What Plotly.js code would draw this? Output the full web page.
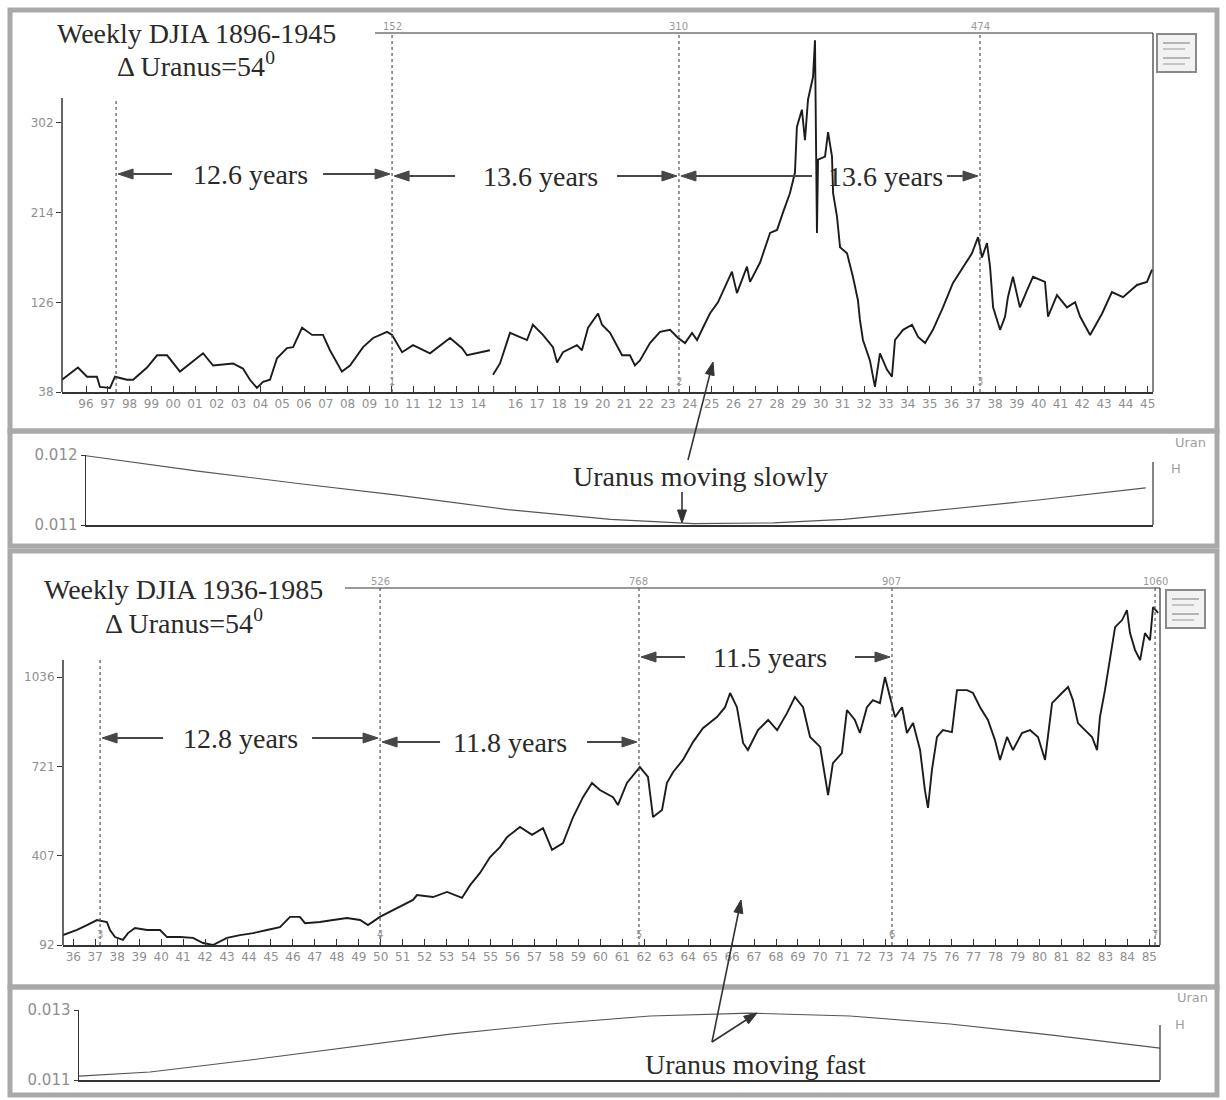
<!DOCTYPE html>
<html><head><meta charset="utf-8">
<script src="https://cdn.plot.ly/plotly-3.0.1.min.js"></script>
<style>html,body{margin:0;padding:0;background:#fff}#chart{width:1226px;height:1100px}</style>
</head><body><div id="chart"></div>
<script>
// ---------------- DATA ----------------
// Panel 1: weekly DJIA 1896-1945 (decimal year, index level)
const years1896 = [1894.90,1895.63,1896.05,1896.50,1896.64,1897.10,1897.33,1897.88,1898.16,1898.80,1899.26,1899.72,1900.31,1900.86,1901.37,1901.83,1902.74,1903.20,1903.52,1903.84,1904.12,1904.44,1904.76,1905.22,1905.50,1905.91,1906.37,1906.87,1907.19,1907.74,1908.11,1908.71,1909.17,1909.81,1910.04,1910.50,1911.00,1911.78,1912.70,1913.25,1913.48,1914.53,1914.97,1915.29,1915.75,1916.21,1916.53,1916.80,1917.26,1917.72,1917.91,1918.18,1918.82,1919.05,1919.33,1919.79,1919.97,1920.34,1920.66,1920.89,1921.25,1921.48,1921.71,1922.17,1922.63,1923.09,1923.46,1923.78,1924.10,1924.33,1924.60,1924.92,1925.29,1925.61,1925.93,1926.16,1926.62,1926.76,1927.22,1927.68,1928.00,1928.27,1928.59,1928.82,1928.91,1929.14,1929.28,1929.42,1929.65,1929.74,1929.83,1929.88,1930.20,1930.34,1930.52,1930.57,1930.75,1930.89,1931.21,1931.48,1931.71,1931.80,1931.94,1932.26,1932.49,1932.72,1933.04,1933.27,1933.41,1933.78,1934.19,1934.47,1934.79,1935.15,1935.61,1936.07,1936.53,1936.94,1937.22,1937.40,1937.63,1937.77,1937.91,1938.23,1938.46,1938.59,1938.82,1939.14,1939.47,1939.74,1940.29,1940.43,1940.84,1941.30,1941.67,1941.90,1942.36,1942.91,1943.36,1943.87,1944.51,1944.97,1945.20];
const djia1896 = [50,62,53,53,43,42,53,50,50,62,74,74,58,67,76,64,66,61,50,42,48,50,71,81,82,101,94,94,79,58,64,82,91,97,94,77,84,76,91,81,74,79,55,66,96,92,89,104,94,82,67,77,84,79,101,115,104,96,84,74,74,64,69,86,97,99,91,86,96,89,101,115,126,141,156,135,161,146,165,194,197,214,233,253,298,315,285,325,347,383,194,266,269,293,269,233,210,180,174,151,128,109,89,69,43,76,60,53,89,99,104,92,86,99,121,145,161,174,190,170,184,161,121,99,112,131,151,121,138,151,146,112,133,121,126,112,94,115,136,131,143,146,158];

// Panel 2: weekly DJIA 1936-1985
const years1936 = [1935.53,1936.17,1936.62,1937.08,1937.53,1937.67,1937.90,1938.26,1938.49,1938.81,1939.36,1939.95,1940.27,1940.86,1941.45,1941.91,1942.36,1943.00,1943.59,1944.19,1944.82,1945.41,1945.87,1946.32,1946.55,1947.23,1947.83,1948.46,1949.06,1949.42,1949.96,1950.56,1950.88,1951.19,1951.47,1951.65,1952.38,1953.02,1953.70,1954.07,1954.52,1954.98,1955.43,1955.75,1956.34,1956.89,1957.39,1957.80,1958.30,1958.76,1959.21,1959.62,1959.98,1960.58,1960.80,1961.21,1961.80,1962.17,1962.40,1962.81,1963.03,1963.31,1963.76,1964.22,1964.67,1965.31,1965.68,1965.91,1966.22,1966.50,1966.72,1967.18,1967.64,1968.05,1968.50,1968.86,1969.23,1969.55,1970.01,1970.37,1970.59,1971.00,1971.23,1971.59,1971.82,1972.14,1972.41,1972.73,1972.96,1973.19,1973.42,1973.74,1973.96,1974.24,1974.56,1974.78,1974.92,1975.10,1975.33,1975.60,1976.01,1976.24,1976.70,1976.97,1977.29,1977.65,1977.97,1978.20,1978.52,1978.79,1979.20,1979.57,1979.93,1980.25,1980.57,1981.02,1981.30,1981.52,1981.75,1982.07,1982.39,1982.62,1982.75,1982.98,1983.21,1983.44,1983.76,1983.98,1984.12,1984.35,1984.58,1984.80,1985.03,1985.17,1985.40];
const djia1936 = [127,145,162,180,173,145,120,110,134,152,145,145,120,120,117,99,92,117,127,134,145,155,191,191,169,173,180,187,180,162,191,215,226,240,251,268,261,279,258,303,346,402,437,472,508,480,504,427,451,543,613,663,638,613,585,663,719,684,543,568,663,701,744,807,856,895,930,980,930,804,779,849,885,849,909,966,930,825,790,620,733,768,920,885,839,930,955,944,1036,966,895,930,839,874,779,638,575,709,825,849,842,990,990,980,930,885,814,744,825,779,839,849,825,744,944,980,1001,955,874,849,825,779,895,990,1096,1212,1237,1272,1191,1131,1096,1191,1166,1283,1262];

// Uranus daily motion (degrees/day)
const uranusYears1 = [1896.00,1901.13,1905.82,1910.18,1915.64,1920.36,1924.17,1927.84,1931.05,1934.08,1939.77,1944.91];
const uranusSpeed1 = [0.01199,0.01177,0.01159,0.01143,0.01122,0.01108,0.01102,0.01103,0.01108,0.01117,0.01135,0.01153];
const uranusYears2 = [1936.26,1939.49,1944.05,1948.60,1953.16,1957.71,1962.27,1966.82,1971.37,1975.93,1980.48,1985.49];
const uranusSpeed2 = [0.01111,0.01123,0.01157,0.01194,0.01231,0.01260,0.01283,0.01291,0.01283,0.01260,0.01229,0.01191];

// Marked turning points (decimal year) and their labels
const events1Years = [1897.38,1910.04,1923.50,1937.31];
const events1Top = ['','152','310','474'];
const events1Num = ['','1','2','3'];
const events2Years = [1937.22,1949.97,1961.76,1973.28,1985.26];
const events2Top = ['','526','768','907','1060'];
const events2Num = ['3','4','5','6','7'];
const spans1 = ['12.6 years','13.6 years','13.6 years'];
const spans2 = ['12.8 years','11.8 years','11.5 years'];

// Tick years (1915 tick mark has no label on the original)
const tickYears1 = []; for(let y=1896;y<=1945;y++) if(y!==1915) tickYears1.push(y);
const unlabeledTick1 = 1915;
const tickYears2 = []; for(let y=1936;y<=1985;y++) tickYears2.push(y);

// ---------------- HELPERS ----------------
const W=1226,H=1100;
const px=x=>x/W, py=y=>1-y/H;
// NYSE closure Aug-Dec 1914 is squeezed out of the weekly bar axis
const CLOSE_AT=1914.6, CLOSE_LEN=0.3;
const tx=y=> y<CLOSE_AT ? y : y-CLOSE_LEN;

function withGap(xs, ys){
  const X=[],Y=[];
  for(let i=0;i<xs.length;i++){
    if(i>0 && xs[i-1]<CLOSE_AT && xs[i]>=CLOSE_AT){X.push(null);Y.push(null);}
    X.push(tx(xs[i]));Y.push(ys[i]);
  }
  return [X,Y];
}
const [x1,y1]=withGap(years1896,djia1896);

const GREY='#8f8f8f';
const tickFont={family:'DejaVu Sans',size:12,color:GREY};
const serif='Liberation Serif';

const traces=[
  {x:x1,y:y1,xaxis:'x',yaxis:'y',type:'scatter',mode:'lines',line:{color:'#1c1c1c',width:1.9},connectgaps:false,hoverinfo:'skip'},
  {x:years1936,y:djia1936,xaxis:'x2',yaxis:'y2',type:'scatter',mode:'lines',line:{color:'#1c1c1c',width:1.9},hoverinfo:'skip'},
  {x:uranusYears1.map(tx),y:uranusSpeed1,xaxis:'x3',yaxis:'y3',type:'scatter',mode:'lines',line:{color:'#555',width:1.1},hoverinfo:'skip'},
  {x:uranusYears2,y:uranusSpeed2,xaxis:'x4',yaxis:'y4',type:'scatter',mode:'lines',line:{color:'#555',width:1.1},hoverinfo:'skip'}
];

const baseAx={showgrid:false,zeroline:false,fixedrange:true,autorange:false};
const layout={
  width:W,height:H,margin:{l:0,r:0,t:0,b:0},paper_bgcolor:'#fff',plot_bgcolor:'rgba(0,0,0,0)',showlegend:false,
  xaxis:Object.assign({},baseAx,{domain:[px(62),px(1153)],range:[1896+(62-86)/21.8,1896+(1153-86)/21.8],anchor:'y',
    showline:true,linecolor:'#333',linewidth:1.5,ticks:'inside',ticklen:6,tickcolor:'#333',
    tickvals:tickYears1.map(tx),ticktext:tickYears1.map(y=>String(y%100).padStart(2,'0')),tickfont:tickFont}),
  yaxis:Object.assign({},baseAx,{domain:[py(392),py(33)],range:[38,38+(392-33)*88/89.7],anchor:'x',
    showline:false,ticks:'outside',ticklen:5,tickcolor:'#333',tickvals:[38,126,214,302],tickfont:tickFont}),
  xaxis2:Object.assign({},baseAx,{domain:[px(63),px(1160)],range:[1936+(63-73.3)/21.96,1936+(1160-73.3)/21.96],anchor:'y2',
    showline:true,linecolor:'#333',linewidth:1.5,ticks:'inside',ticklen:6,tickcolor:'#333',
    tickvals:tickYears2,ticktext:tickYears2.map(y=>String(y%100).padStart(2,'0')),tickfont:tickFont}),
  yaxis2:Object.assign({},baseAx,{domain:[py(945),py(588)],range:[92,92+(945-588)*314.67/89.3],anchor:'x2',
    showline:false,ticks:'outside',ticklen:5,tickcolor:'#333',tickvals:[92,407,721,1036],tickfont:tickFont}),
  xaxis3:Object.assign({},baseAx,{domain:[px(86),px(1153)],range:[1896,1896+(1153-86)/21.8],anchor:'y3',
    showline:true,linecolor:'#333',linewidth:1.5,ticks:'',showticklabels:false}),
  yaxis3:Object.assign({},baseAx,{domain:[py(525),py(455)],range:[0.011,0.012],anchor:'x3',
    showline:true,linecolor:'#333',linewidth:1.5,ticks:'outside',ticklen:4,tickcolor:'#333',
    tickvals:[0.011,0.012],ticktext:['0.011','0.012'],tickfont:{family:'DejaVu Sans',size:15,color:GREY}}),
  xaxis4:Object.assign({},baseAx,{domain:[px(79),px(1160)],range:[1936+(79-73.3)/21.96,1936+(1160-73.3)/21.96],anchor:'y4',
    showline:true,linecolor:'#333',linewidth:1.5,ticks:'',showticklabels:false}),
  yaxis4:Object.assign({},baseAx,{domain:[py(1080),py(1010)],range:[0.011,0.013],anchor:'x4',
    showline:true,linecolor:'#333',linewidth:1.5,ticks:'outside',ticklen:4,tickcolor:'#333',
    tickvals:[0.011,0.013],ticktext:['0.011','0.013'],tickfont:{family:'DejaVu Sans',size:15,color:GREY}}),
  shapes:[],annotations:[]
};
const S=layout.shapes, A=layout.annotations;
function pline(x0,y0,x1,y1,color,width,dash){S.push({type:'line',xref:'paper',yref:'paper',x0:px(x0),y0:py(y0),x1:px(x1),y1:py(y1),line:{color:color,width:width,dash:dash||'solid'}});}
function prect(x0,y0,x1,y1,color,width,fill){S.push({type:'rect',xref:'paper',yref:'paper',x0:px(x0),y0:py(y0),x1:px(x1),y1:py(y1),line:{color:color,width:width},fillcolor:fill||'rgba(0,0,0,0)'});}

// scanned frame borders
const BC='#a9a9a9';
prect(10,10,1217,431,BC,5); prect(10,431,1217,546,BC,5);
prect(10,551,1217,987,BC,5); prect(10,987,1217,1095,BC,5);

// price panel frames
pline(375,33,1153,33,'#333',1.2); pline(1153,33,1153,392,'#333',1.2); pline(62,98,62,392,'#333',1.5);
pline(345,588,1160,588,'#333',1.2); pline(1160,588,1160,945,'#333',1.2); pline(63,660,63,945,'#333',1.5);
pline(1153,462,1153,525,'#333',1.2); pline(1160,1025,1160,1080,'#333',1.2);
// unlabeled 1915 tick mark
S.push({type:'line',xref:'x',yref:'paper',x0:tx(unlabeledTick1),x1:tx(unlabeledTick1),y0:py(392),y1:py(386),line:{color:'#333',width:1}});

// legend boxes
function legendBox(x0,y0){
  prect(x0,y0,x0+39,y0+38,'#8a8a8a',2,'#f2f2f2');
  pline(x0+6,y0+9,x0+33,y0+9,'#b5b5b5',2); pline(x0+6,y0+15,x0+28,y0+15,'#c5c5c5',2);
  pline(x0+6,y0+24,x0+33,y0+24,'#b5b5b5',2); pline(x0+6,y0+30,x0+28,y0+30,'#c5c5c5',2);
}
legendBox(1157,34); legendBox(1166,590);

// event lines and labels
const smallGrey={family:'DejaVu Sans',size:10,color:'#999'};
function events(years,tops,nums,xa,yTopPx,yFirstTopPx,yBotPx,topLabelPx,numPx,tf){
  years.forEach((yr,i)=>{
    const xv=tf(yr);
    S.push({type:'line',xref:xa,yref:'paper',x0:xv,x1:xv,y0:py(yBotPx),y1:py(i===0?yFirstTopPx:yTopPx),line:{color:'#555',width:1.2,dash:'dot'}});
    if(tops[i]) A.push({xref:xa,yref:'paper',x:xv,y:py(topLabelPx),xanchor:'center',yanchor:'bottom',text:tops[i],showarrow:false,font:smallGrey});
    if(nums[i]) A.push({xref:xa,yref:'paper',x:xv,y:py(numPx),xanchor:'center',yanchor:'middle',text:nums[i],showarrow:false,font:smallGrey});
  });
}
events(events1Years,events1Top,events1Num,'x',33,98,392,34,381,tx);
events(events2Years,events2Top,events2Num,'x2',588,660,945,589,934,y=>y);

// horizontal arrow: head anchored at a data x, shaft length in pixels (sign = direction of tail)
const AC='#474747';
function hArrow(xa,xv,yPx,tailOff){
  const d=Math.sign(tailOff), tip=2*d, base=tip+15*d;
  S.push({type:'line',xref:xa,xsizemode:'pixel',xanchor:xv,yref:'paper',x0:base,x1:tailOff,y0:py(yPx),y1:py(yPx),line:{color:AC,width:2}});
  S.push({type:'path',xref:xa,xsizemode:'pixel',xanchor:xv,yref:'paper',
    path:`M ${tip},${py(yPx)} L ${base},${py(yPx-5)} L ${base},${py(yPx+5)} Z`,fillcolor:AC,line:{color:AC,width:1}});
}
function span(xa,tf,yL,yR,yPx,text,textPx,axL,axR){
  hArrow(xa,tf(yL),yPx,axL); hArrow(xa,tf(yR),yPx,axR);
  A.push({xref:'paper',yref:'paper',x:px(textPx),y:py(yPx),xanchor:'center',yanchor:'middle',text:text,showarrow:false,font:{family:serif,size:28,color:'#2a2a2a'}});
}
span('x',tx,events1Years[0],events1Years[1],174,spans1[0],250,56,-69);
span('x',tx,events1Years[1],events1Years[2],176,spans1[1],540,63,-62);
span('x',tx,events1Years[2],events1Years[3],176,spans1[2],885,133,-33);
span('x2',y=>y,events2Years[0],events2Years[1],738,spans2[0],240,63,-68);
span('x2',y=>y,events2Years[1],events2Years[2],742,spans2[1],510,60,-52);
span('x2',y=>y,events2Years[2],events2Years[3],657,spans2[2],770,46,-37);

// titles and labels
function ptext(x,y,t,size,color,family){A.push({xref:'paper',yref:'paper',x:px(x),y:py(y),xanchor:'center',yanchor:'middle',text:t,showarrow:false,font:{family:family||serif,size:size,color:color||'#2a2a2a'}});}
ptext(196,33,'Weekly DJIA 1896-1945',28);
ptext(196,64,'Δ Uranus=54<sup>0</sup>',28);
ptext(183,589,'Weekly DJIA 1936-1985',28);
ptext(184,621,'Δ Uranus=54<sup>0</sup>',28);
ptext(700,476,'Uranus moving slowly',28);
ptext(756,1064,'Uranus moving fast',28);
ptext(1190,442,'Uran',13,'#a0a0a0','DejaVu Sans'); ptext(1176,468,'H',13,'#a0a0a0','DejaVu Sans');
ptext(1192,997,'Uran',13,'#a0a0a0','DejaVu Sans'); ptext(1180,1024,'H',13,'#a0a0a0','DejaVu Sans');

// pointer arrows (pixel geometry converted to paper)
function pArrow(hx,hy,tx0,ty0){
  const L=Math.hypot(hx-tx0,hy-ty0), ux=(hx-tx0)/L, uy=(hy-ty0)/L, bx=hx-13*ux, by=hy-13*uy;
  pline(tx0,ty0,bx,by,'#333',1.6);
  S.push({type:'path',xref:'paper',yref:'paper',
    path:`M ${px(hx)},${py(hy)} L ${px(bx-4.5*uy)},${py(by+4.5*ux)} L ${px(bx+4.5*uy)},${py(by-4.5*ux)} Z`,fillcolor:'#333',line:{color:'#333',width:1}});
}
pArrow(713,362,688,460); pArrow(682,523,682,492);
pArrow(741,900,712,1042); pArrow(757,1013,712,1042);

Plotly.newPlot('chart',traces,layout,{displayModeBar:false,staticPlot:true});
</script></body></html>
